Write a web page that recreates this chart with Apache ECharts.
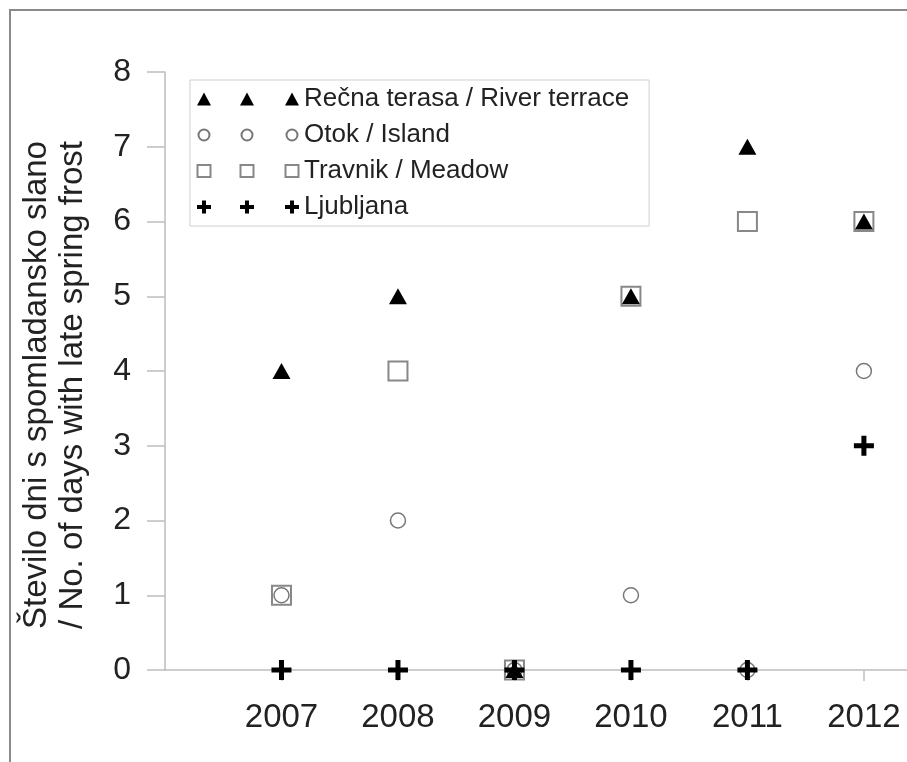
<!DOCTYPE html>
<html><head><meta charset="utf-8">
<script src="https://cdn.jsdelivr.net/npm/echarts@6/dist/echarts.min.js"></script>
<style>html,body{margin:0;padding:0;background:#fff}#c{width:907px;height:762px}</style>
</head><body><div id="c"></div>
<script>
const years = [2007, 2008, 2009, 2010, 2011, 2012];
const seriesNames = ['Rečna terasa / River terrace', 'Otok / Island', 'Travnik / Meadow', 'Ljubljana'];
const riverTerrace = [4, 5, 0, 5, 7, 6];
const island = [1, 2, 0, 1, 0, 4];
const meadow = [1, 4, 0, 5, 6, 6];
const ljubljana = [0, 0, 0, 0, 0, 3];
const yAxisTitle = 'Število dni s spomladansko slano\n/ No. of days with late spring frost';

const FONT = '"Liberation Sans", Arial, sans-serif';
const centers = [7, 50, 95];
const BOX = ' M0 0 M102 13';
const triIcon = 'path://' + centers.map(c => `M${c-7} 13 L${c} 0 L${c+7} 13 Z`).join(' ') + BOX;
const cirIcon = 'path://' + centers.map(c => `M${c-5.5} 6.5 A5.5 5.5 0 1 0 ${c+5.5} 6.5 A5.5 5.5 0 1 0 ${c-5.5} 6.5 Z`).join(' ') + BOX;
const sqIcon = 'path://' + centers.map(c => `M${c-6.5} 0.5 L${c+6.5} 0.5 L${c+6.5} 12.5 L${c-6.5} 12.5 Z`).join(' ') + BOX;
const plusIcon = 'path://' + centers.map(c => `M${c-2} 0 L${c+2} 0 L${c+2} 4.5 L${c+7} 4.5 L${c+7} 8.5 L${c+2} 8.5 L${c+2} 13 L${c-2} 13 L${c-2} 8.5 L${c-7} 8.5 L${c-7} 4.5 L${c-2} 4.5 Z`).join(' ') + BOX;
const plusSymbol = 'path://M7.5 0 H12.5 V7.5 H20 V12.5 H12.5 V20 H7.5 V12.5 H0 V7.5 H7.5 Z';

const pts = arr => years.map((y, i) => [y, arr[i]]);

const chart = echarts.init(document.getElementById('c'), null, {renderer: 'canvas'});
chart.setOption({
  animation: false,
  backgroundColor: '#fff',
  textStyle: {fontFamily: FONT},
  graphic: [{
    type: 'polyline', silent: true,
    shape: {points: [[10, 762], [10, 10], [907, 10]]},
    style: {stroke: '#8a8a8a', lineWidth: 2, fill: null}
  }],
  grid: {left: 165, right: 0, top: 72, bottom: 92},
  legend: {
    orient: 'vertical', left: 190, top: 80,
    padding: [6, 20, 6, 6],
    borderColor: '#cfcfcf', borderWidth: 1,
    itemWidth: 102, itemHeight: 13, itemGap: 10,
    textStyle: {fontSize: 26, color: '#222', fontFamily: FONT},
    data: [
      {name: seriesNames[0], icon: triIcon},
      {name: seriesNames[1], icon: cirIcon},
      {name: seriesNames[2], icon: sqIcon},
      {name: seriesNames[3], icon: plusIcon}
    ]
  },
  xAxis: {
    type: 'value', min: 2006, max: 2012.37, interval: 1,
    axisLine: {show: true, lineStyle: {color: '#bdbdbd', width: 1.5}},
    axisTick: {show: true, length: 11, lineStyle: {color: '#bdbdbd', width: 1.5}},
    splitLine: {show: false},
    axisLabel: {showMinLabel: false, fontSize: 33, color: '#222', margin: 31, fontFamily: FONT, formatter: v => String(v)}
  },
  yAxis: {
    type: 'value', min: 0, max: 8, interval: 1,
    name: yAxisTitle, nameLocation: 'middle', nameGap: 74,
    nameTextStyle: {fontSize: 33, lineHeight: 36, color: '#222', fontFamily: FONT, padding: [0, 28, 0, 0]},
    axisLine: {show: true, lineStyle: {color: '#bdbdbd', width: 1.5}},
    axisTick: {show: true, length: 18, lineStyle: {color: '#bdbdbd', width: 1.5}},
    splitLine: {show: false},
    axisLabel: {fontSize: 32, color: '#222', margin: 34, fontFamily: FONT}
  },
  series: [
    {name: seriesNames[2], type: 'scatter', data: pts(meadow), symbol: 'rect', symbolSize: 19, z: 2,
      itemStyle: {color: '#fff', borderColor: '#888', borderWidth: 2, opacity: 1}},
    {name: seriesNames[1], type: 'scatter', data: pts(island), symbol: 'circle', symbolSize: 15, z: 3,
      itemStyle: {color: '#fff', borderColor: '#777', borderWidth: 1.5, opacity: 1}},
    {name: seriesNames[0], type: 'scatter', data: pts(riverTerrace), symbol: 'triangle', symbolSize: [18, 16], z: 4,
      itemStyle: {color: '#000', opacity: 1}},
    {name: seriesNames[3], type: 'scatter', data: pts(ljubljana), symbol: plusSymbol, symbolSize: 20, z: 5,
      itemStyle: {color: '#000', opacity: 1}}
  ]
});
</script></body></html>
